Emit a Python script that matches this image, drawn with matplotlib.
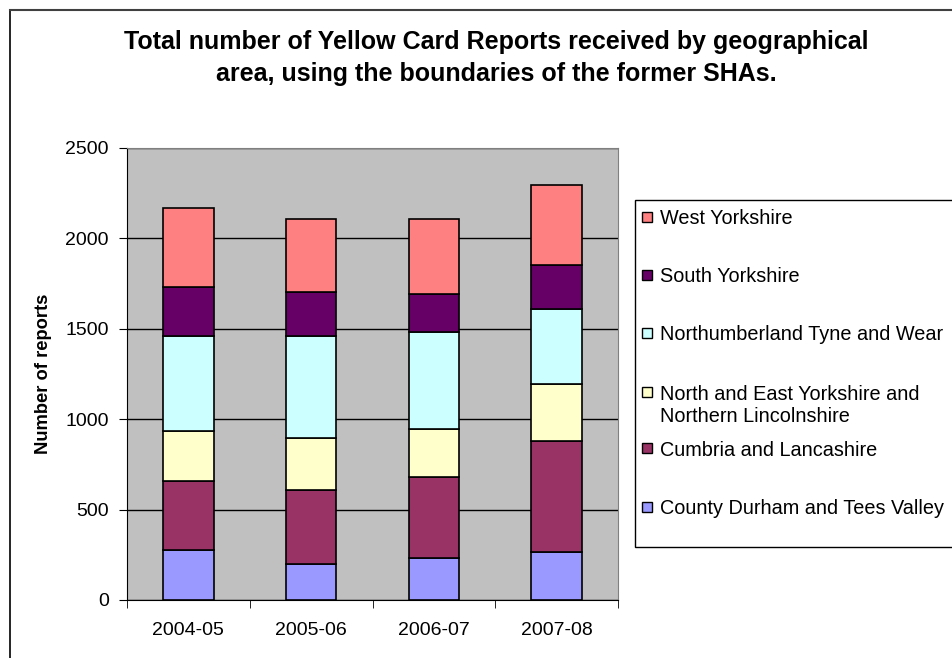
import numpy as np
import matplotlib.pyplot as plt
from matplotlib.patches import Rectangle

plt.rcParams['font.family'] = ['Liberation Sans', 'DejaVu Sans']

# reporting years
years = ['2004-05', '2005-06', '2006-07', '2007-08']

# reports per former SHA area (bottom to top of each stack)
county_durham = [277, 200, 235, 268]
cumbria = [383, 410, 443, 609]
north_east_yorks = [277, 284, 270, 320]
northumberland = [522, 565, 536, 410]
south_yorks = [272, 244, 210, 244]
west_yorks = [435, 402, 411, 446]

series = [
    ('County Durham and Tees Valley', county_durham, '#9999FF'),
    ('Cumbria and Lancashire', cumbria, '#993366'),
    ('North and East Yorkshire and\nNorthern Lincolnshire', north_east_yorks, '#FFFFCC'),
    ('Northumberland Tyne and Wear', northumberland, '#CCFFFF'),
    ('South Yorkshire', south_yorks, '#660066'),
    ('West Yorkshire', west_yorks, '#FF8080'),
]

W, H = 952, 658
fig = plt.figure(figsize=(W / 100, H / 100), dpi=100)
ax = fig.add_axes([127 / W, 1 - 600 / H, (618 - 127) / W, (600 - 148) / H])
ax.set_facecolor('#C0C0C0')

x = np.arange(len(years))
bottom = np.zeros(len(years))
for name, vals, col in series:
    ax.bar(x, vals, 0.41, bottom=bottom, color=col, edgecolor='black', linewidth=1.2, zorder=3)
    bottom += np.array(vals)

ax.set_xlim(-0.5, len(years) - 0.5)
ax.set_ylim(0, 2500)
ax.set_yticks(np.arange(0, 2501, 500))
ax.yaxis.grid(True, color='black', linewidth=1, zorder=1)
ax.set_xticks(x)
ax.set_xticklabels(years, fontsize=14)
ax.set_xticks(np.arange(-0.5, len(years)), minor=True)
ax.tick_params(axis='x', which='major', length=0, pad=16)
ax.tick_params(axis='x', which='minor', length=6, direction='out', color='black')
ax.tick_params(axis='y', length=6, direction='out', labelsize=14, pad=7)
for s in ['top', 'right']:
    ax.spines[s].set_color('#808080')
for s in ['left', 'bottom']:
    ax.spines[s].set_color('black')
ax.set_ylabel('Number of reports', fontsize=13.2, fontweight='bold', labelpad=10)

fig.text(496 / W, 1 - 42 / H, 'Total number of Yellow Card Reports received by geographical',
         ha='center', va='center', fontsize=18, fontweight='bold')
fig.text(496 / W, 1 - 74 / H, 'area, using the boundaries of the former SHAs.',
         ha='center', va='center', fontsize=18, fontweight='bold')

# outer chart border (left and top visible)
fig.add_artist(plt.Line2D([10 / W, 10 / W], [0, 1 - 10 / H], color='black', linewidth=1.2,
                          transform=fig.transFigure))
fig.add_artist(plt.Line2D([10 / W, 1], [1 - 10 / H, 1 - 10 / H], color='#404040', linewidth=1.5,
                          transform=fig.transFigure))

# legend box, drawn by hand to keep Excel-like spacing
fig.add_artist(Rectangle((635 / W, 1 - 547 / H), (W - 635) / W + 0.01, (547 - 200) / H,
                         transform=fig.transFigure, facecolor='white', edgecolor='black',
                         linewidth=1))
legend_y = [217, 275, 333, 392, 448, 507]
for (name, vals, col), yy in zip(series[::-1], legend_y):
    fig.add_artist(Rectangle((642 / W, 1 - (yy + 5) / H), 10 / W, 10 / H,
                             transform=fig.transFigure, facecolor=col, edgecolor='black',
                             linewidth=1))
    for i, line in enumerate(name.split('\n')):
        fig.text(660 / W, 1 - (yy + 23 * i) / H, line, ha='left', va='center_baseline',
                 fontsize=14.3)

fig.savefig('out.png', dpi=100)
